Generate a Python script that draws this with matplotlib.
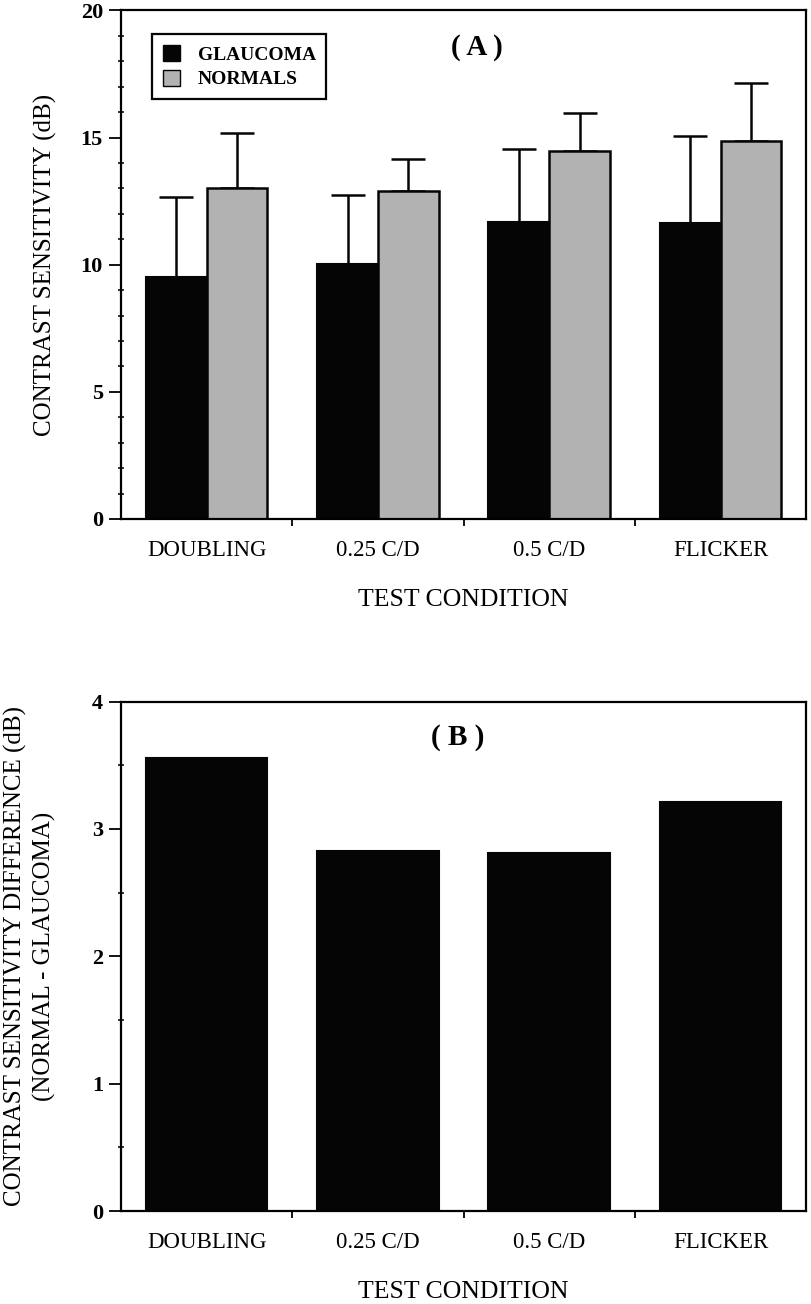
import numpy as np
import matplotlib
matplotlib.use("Agg")
import matplotlib.pyplot as plt
from matplotlib.ticker import MultipleLocator, FixedLocator
from matplotlib.patches import Patch

conditions = ["DOUBLING", "0.25 C/D", "0.5 C/D", "FLICKER"]
glaucoma_mean = [9.50, 10.03, 11.67, 11.63]
glaucoma_sd = [3.17, 2.72, 2.87, 3.42]
normal_mean = [13.03, 12.90, 14.46, 14.85]
normal_sd = [2.14, 1.25, 1.49, 2.28]
difference = [3.56, 2.83, 2.81, 3.21]

plt.rcParams["font.family"] = ["Liberation Serif", "DejaVu Serif"]

fig = plt.figure(figsize=(8.12, 13.04), dpi=100)
axA = fig.add_axes([0.149, 0.602, 0.844, 0.390])
axB = fig.add_axes([0.149, 0.0713, 0.844, 0.3907])

x = np.arange(len(conditions))
w = 0.355
black = "#050505"
grey = "#b2b2b2"


def style_axis(ax, ymax, major, minor):
    ax.set_xlim(-0.5, len(conditions) - 0.5)
    ax.set_ylim(0, ymax)
    ax.yaxis.set_major_locator(MultipleLocator(major))
    ax.yaxis.set_minor_locator(MultipleLocator(minor))
    ax.set_xticks(x)
    ax.set_xticklabels(conditions, fontsize=16.5)
    ax.xaxis.set_minor_locator(FixedLocator(x[:-1] + 0.5))
    ax.tick_params(axis="x", which="major", length=0, pad=15)
    ax.tick_params(axis="x", which="minor", length=5, width=1.3, direction="out")
    ax.tick_params(axis="y", which="major", length=9, width=1.3, direction="out",
                   labelsize=16, pad=4)
    ax.tick_params(axis="y", which="minor", length=5, width=1.1, direction="inout")
    for lab in ax.get_yticklabels():
        lab.set_fontweight("bold")
    for s in ax.spines.values():
        s.set_linewidth(1.6)
    ax.set_xlabel("TEST CONDITION", fontsize=18.5, labelpad=20)


# (A) mean contrast sensitivity with SD bars
axA.bar(x - w / 2, glaucoma_mean, w, color=black, edgecolor=black, linewidth=1.5,
        zorder=2)
axA.bar(x + w / 2, normal_mean, w, color=grey, edgecolor=black, linewidth=1.8,
        zorder=2)
axA.errorbar(x - w / 2, glaucoma_mean, yerr=[np.zeros(4), glaucoma_sd], fmt="none",
             ecolor=black, elinewidth=1.8, capsize=12.5, capthick=1.8, zorder=1)
axA.errorbar(x + w / 2, normal_mean, yerr=[np.zeros(4), normal_sd], fmt="none",
             ecolor=black, elinewidth=1.8, capsize=12.5, capthick=1.8, zorder=1)
style_axis(axA, 20, 5, 1)
axA.set_ylabel("CONTRAST SENSITIVITY (dB)", fontsize=18, labelpad=17)
axA.text(0.52, 0.927, "( A )", transform=axA.transAxes, ha="center", va="center",
         fontsize=21, fontweight="bold")
handles = [Patch(facecolor=black, edgecolor=black, label="GLAUCOMA"),
           Patch(facecolor=grey, edgecolor=black, label="NORMALS")]
leg = axA.legend(handles=handles, loc="upper left", bbox_to_anchor=(0.045, 0.953),
                 borderaxespad=0, fancybox=False, framealpha=1, edgecolor=black,
                 handlelength=0.9, handleheight=0.9, handletextpad=0.9,
                 borderpad=0.55, labelspacing=0.3,
                 prop={"size": 14, "weight": "bold"})
leg.get_frame().set_linewidth(1.6)

# (B) normal minus glaucoma
axB.bar(x, difference, 2 * w, color=black, edgecolor=black, linewidth=1.5)
style_axis(axB, 4, 1, 0.5)
axB.set_ylabel("CONTRAST SENSITIVITY DIFFERENCE (dB)\n(NORMAL - GLAUCOMA)",
               fontsize=18, labelpad=26, linespacing=1.3)
axB.text(0.492, 0.929, "( B )", transform=axB.transAxes, ha="center", va="center",
         fontsize=21, fontweight="bold")

fig.savefig("out.png", dpi=100)
